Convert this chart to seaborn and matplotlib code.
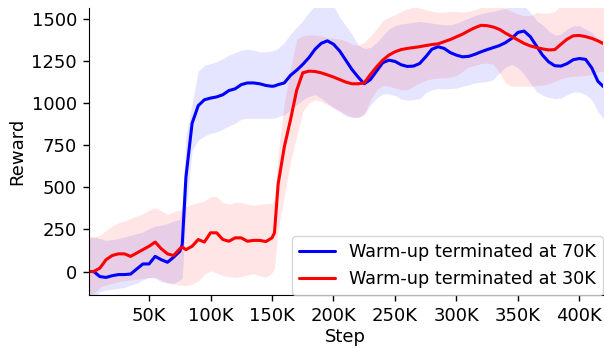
import numpy as np
import pandas as pd
import matplotlib
matplotlib.use("Agg")
import matplotlib.pyplot as plt
import seaborn as sns

steps_k = [0, 5, 10, 15, 20, 25, 30, 35, 40, 45, 50, 55, 60, 65, 70, 75, 77, 80, 85, 90,
           95, 100, 105, 110, 115, 120, 125, 130, 135, 140, 145, 150, 152, 155, 160, 165,
           170, 175, 180, 185, 190, 195, 200, 205, 210, 215, 220, 225, 230, 235, 240, 245,
           250, 255, 260, 265, 270, 275, 280, 285, 290, 295, 300, 305, 310, 315, 320, 325,
           330, 335, 340, 345, 350, 355, 360, 365, 370, 375, 380, 385, 390, 395, 400, 405,
           410, 415, 420]

blue_mean = [0, 0, -30, -35, -25, -18, -18, -15, 15, 45, 45, 90, 70, 55, 85, 120, 160, 560, 880, 985,
             1020, 1030, 1037, 1050, 1075, 1085, 1110, 1120, 1120, 1115, 1105, 1100, 1102, 1110, 1120, 1165,
             1195, 1230, 1270, 1320, 1355, 1370, 1350, 1310, 1255, 1200, 1155, 1115, 1140, 1190, 1240, 1255,
             1248, 1228, 1218, 1220, 1235, 1275, 1320, 1335, 1325, 1300, 1285, 1275, 1278, 1290, 1305, 1318,
             1330, 1342, 1360, 1385, 1420, 1428, 1395, 1340, 1285, 1245, 1222, 1220, 1235, 1258, 1265, 1260,
             1210, 1130, 1095]

blue_upper = [205, 205, 195, 185, 190, 195, 205, 215, 225, 235, 255, 270, 275, 285, 300, 310, 400, 800, 1000, 1190,
              1225, 1235, 1245, 1265, 1285, 1300, 1315, 1320, 1315, 1305, 1305, 1310, 1315, 1325, 1360, 1410,
              1450, 1490, 1540, 1580, 1600, 1600, 1580, 1510, 1460, 1410, 1345, 1325, 1330, 1360, 1400, 1440,
              1460, 1470, 1475, 1480, 1485, 1480, 1475, 1470, 1465, 1465, 1475, 1490, 1505, 1520, 1530, 1540,
              1545, 1555, 1565, 1575, 1585, 1580, 1540, 1490, 1465, 1430, 1405, 1410, 1440, 1460, 1460, 1440,
              1420, 1380, 1340]

blue_lower = [-180, -160, -120, -110, -105, -100, -95, -80, -70, -50, -35, -40, -60, -65, -70, -50, -40, 350, 720, 780,
              805, 820, 829, 845, 865, 880, 905, 910, 910, 910, 909, 910, 912, 920, 930, 960,
              990, 1020, 1040, 1050, 1030, 1000, 975, 950, 925, 915, 915, 930, 990, 1030, 1055, 1055,
              1045, 1025, 1017, 1020, 1027, 1060, 1080, 1085, 1085, 1087, 1090, 1100, 1110, 1120, 1125, 1128,
              1140, 1180, 1215, 1230, 1210, 1170, 1120, 1070, 1047, 1035, 1027, 1030, 1050, 1067, 1065, 1050,
              1020, 950, 905]

red_mean = [0, 0, 20, 70, 95, 105, 105, 90, 110, 130, 150, 175, 135, 105, 95, 135, 145, 130, 150, 190,
            175, 230, 230, 190, 180, 200, 200, 180, 185, 185, 178, 200, 230, 520, 740, 900,
            1075, 1180, 1190, 1188, 1180, 1168, 1155, 1140, 1125, 1115, 1115, 1120, 1170, 1215, 1255, 1285,
            1305, 1318, 1325, 1330, 1335, 1342, 1348, 1352, 1365, 1378, 1394, 1410, 1430, 1448, 1462, 1460,
            1452, 1438, 1415, 1395, 1375, 1355, 1340, 1330, 1322, 1316, 1318, 1350, 1380, 1400, 1402, 1395,
            1385, 1370, 1352]

red_upper = [205, 205, 214, 245, 270, 290, 300, 315, 330, 343, 365, 380, 360, 340, 355, 365, 370, 385, 400, 410,
             420, 445, 445, 410, 400, 410, 410, 400, 393, 400, 403, 405, 430, 700, 1000, 1200,
             1380, 1400, 1405, 1405, 1400, 1390, 1385, 1380, 1370, 1350, 1345, 1360, 1400, 1440, 1490, 1510,
             1525, 1545, 1560, 1570, 1565, 1555, 1545, 1540, 1540, 1545, 1545, 1540, 1545, 1555, 1570, 1580,
             1585, 1580, 1560, 1545, 1530, 1520, 1520, 1540, 1535, 1535, 1545, 1580, 1600, 1600, 1600, 1600,
             1600, 1600, 1600]

red_lower = [-150, -130, -93, -80, -70, -60, -55, -50, -45, -40, -35, -35, -50, -70, -75, -80, -82, -83, -75, -55,
             -20, 5, -10, -25, -30, -35, -30, -20, -14, -25, -34, -10, 20, 250, 450, 650,
             800, 950, 1000, 1020, 1010, 990, 970, 955, 935, 920, 915, 940, 1020, 1080, 1105, 1100,
             1090, 1080, 1080, 1100, 1120, 1135, 1145, 1150, 1150, 1155, 1165, 1190, 1215, 1225, 1235, 1238,
             1230, 1180, 1120, 1100, 1100, 1100, 1100, 1105, 1107, 1115, 1130, 1145, 1155, 1160, 1160, 1165,
             1170, 1185, 1190]

labels = ["Warm-up terminated at 70K", "Warm-up terminated at 30K"]
colors = ["blue", "red"]
xtick_vals = [50, 100, 150, 200, 250, 300, 350, 400]
xtick_labels = ["50K", "100K", "150K", "200K", "250K", "300K", "350K", "400K"]
ytick_vals = [0, 250, 500, 750, 1000, 1250, 1500]

sns.set_style("ticks")
plt.rcParams["font.family"] = ["DejaVu Sans"]
for key in ["text.color", "axes.labelcolor", "xtick.color", "ytick.color", "axes.edgecolor"]:
    plt.rcParams[key] = "black"

steps = np.array(steps_k) * 1000
df = pd.concat([
    pd.DataFrame({"Step": steps, "Reward": blue_mean, "run": labels[0]}),
    pd.DataFrame({"Step": steps, "Reward": red_mean, "run": labels[1]}),
])

fig, ax = plt.subplots(figsize=(6.04, 3.48), dpi=100)
fig.subplots_adjust(left=0.147, right=0.998, top=0.977, bottom=0.152)

ax.fill_between(steps, blue_lower, blue_upper, color="blue", alpha=0.1, linewidth=0)
ax.fill_between(steps, red_lower, red_upper, color="red", alpha=0.1, linewidth=0)

sns.lineplot(data=df, x="Step", y="Reward", hue="run", palette=colors,
             linewidth=2.2, ax=ax, estimator=None)

ax.set_xlim(1000, 419000)
ax.set_ylim(-140, 1565)
ax.set_xticks(np.array(xtick_vals) * 1000)
ax.set_xticklabels(xtick_labels)
ax.set_yticks(ytick_vals)
ax.tick_params(labelsize=13, length=4.5, width=1, pad=4, colors="black")
ax.set_xlabel("Step", fontsize=13, labelpad=2.5)
ax.set_ylabel("Reward", fontsize=13)
sns.despine(ax=ax)
leg = ax.legend(loc="lower right", fontsize=12.7, title=None, borderaxespad=0.0)
for line in leg.get_lines():
    line.set_linewidth(2.2)

fig.savefig("out.png", dpi=100)
